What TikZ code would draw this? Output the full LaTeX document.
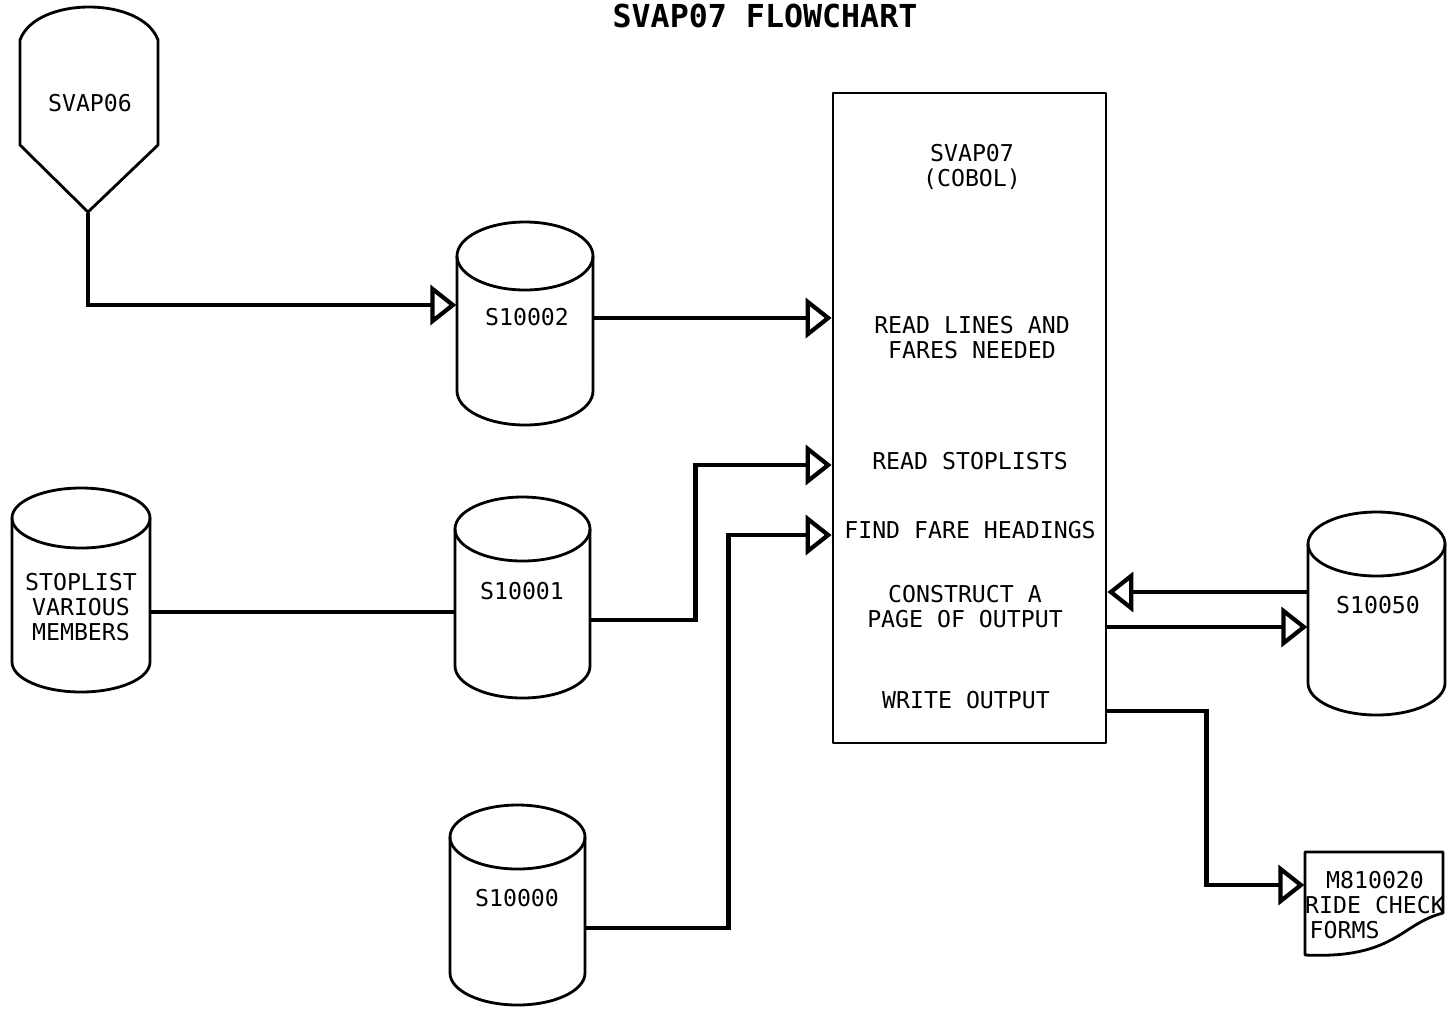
\documentclass[tikz,border=0pt]{standalone}
\usepackage{fontspec}
\setmonofont{DejaVu Sans Mono}
\usetikzlibrary{arrows.meta}
\tikzset{
  outline/.style={line width=0.8pt, line join=round},
  conn/.style={line width=1.4pt},
  flow/.style={conn, -{Triangle[open, length=0.26cm, width=0.40cm, line width=1.2pt]}},
  lbl/.style={font=\fontsize{6.6}{7.1}\selectfont\ttfamily, align=center, inner sep=0},
  area/.style={inner sep=0, draw=none}
}
% name, left, right, top, bottom, ellipse y radius
\newcommand\dbcyl[6]{%
  \pgfmathsetmacro\cylcx{(#2+#3)/2}%
  \pgfmathsetmacro\cylrx{(#3-#2)/2}%
  \draw[outline] (\cylcx,{#4-#6}) ellipse [x radius=\cylrx cm, y radius=#6 cm];
  \draw[outline] (#2,{#4-#6}) -- (#2,{#5+#6})
     arc[start angle=180, end angle=360, x radius=\cylrx cm, y radius=#6 cm] -- (#3,{#4-#6});
  \node[area, minimum width={(#3-#2)*1cm}, minimum height={(#4-#5)*1cm}] (#1) at (\cylcx,{(#4+#5)/2}) {};
}
\begin{document}
\begin{tikzpicture}
\useasboundingbox (0,0) rectangle (14.5,10.09);

% title
\node[font=\fontsize{9}{10}\selectfont\ttfamily\bfseries, inner sep=0] (title) at (7.65,9.93) {SVAP07 FLOWCHART};

% SVAP06 (off-page / terminal shape)
\draw[outline] (0.20,9.69) .. controls (0.36,10.13) and (1.42,10.13) .. (1.58,9.69)
   -- (1.58,8.64) -- (0.88,7.97) -- (0.20,8.64) -- cycle;
\node[area, minimum width=1.38cm, minimum height=2.05cm] (svap06) at (0.88,8.995) {};
\node[lbl] (svap06t) at (0.90,9.06) {SVAP06};

% data sets
\dbcyl{s10002}{4.57}{5.93}{7.87}{5.84}{0.34}
\node[lbl] (s10002t) at (5.27,6.92) {S10002};

\dbcyl{stop}{0.12}{1.50}{5.21}{3.17}{0.30}
\node[lbl] (stopt) at (0.81,4.02) {STOPLIST\\VARIOUS\\MEMBERS};

\dbcyl{s10001}{4.55}{5.90}{5.12}{3.11}{0.32}
\node[lbl] (s10001t) at (5.22,4.18) {S10001};

\dbcyl{s10000}{4.50}{5.85}{2.04}{0.04}{0.32}
\node[lbl] (s10000t) at (5.17,1.11) {S10000};

\dbcyl{s10050}{13.08}{14.45}{4.97}{2.94}{0.32}
\node[lbl] (s10050t) at (13.78,4.04) {S10050};

% main program box
\node[draw, outline, minimum width=2.73cm, minimum height=6.50cm, inner sep=0] (main) at (9.695,5.91) {};
\node[lbl] (m1) at (9.72,8.425) {SVAP07\\(COBOL)};
\node[lbl] (m2) at (9.72,6.715) {READ LINES AND\\FARES NEEDED};
\node[lbl] (m3) at (9.70,5.48) {READ STOPLISTS};
\node[lbl] (m4) at (9.70,4.79) {FIND FARE HEADINGS};
\node[lbl] (m5) at (9.65,4.02) {CONSTRUCT A\\PAGE OF OUTPUT};
\node[lbl] (m6) at (9.66,3.09) {WRITE OUTPUT};

% document
\draw[outline] (13.05,0.54) -- (13.05,1.57) -- (14.43,1.57) -- (14.43,0.96)
   .. controls (14.00,0.85) and (13.95,0.50) .. (13.05,0.54) -- cycle;
\node[area, minimum width=1.38cm, minimum height=1.03cm] (doc) at (13.74,1.055) {};
\node[lbl] (doct1) at (13.75,1.29) {M810020};
\node[lbl] (doct2) at (13.75,1.04) {RIDE CHECK};
\node[lbl, anchor=west] (doct3) at (13.09,0.79) {FORMS};

% connectors
\draw[flow] (svap06.south) |- (s10002.west |- 0,7.04);
\draw[flow] (s10002.east |- 0,6.91) -- (main.west |- 0,6.91);
\draw[conn] (stop.east |- 0,3.97) -- (s10001.west |- 0,3.97);
\draw[flow] (s10001.east |- 0,3.89) -- ++(1.05,0) |- (main.west |- 0,5.44);
\draw[flow] (s10000.east |- 0,0.81) -- ++(1.43,0) |- (main.west |- 0,4.74);
\draw[flow] (s10050.west |- 0,4.17) -- (main.east |- 0,4.17);
\draw[flow] (main.east |- 0,3.82) -- (s10050.west |- 0,3.82);
\draw[flow] (main.east |- 0,2.98) -- ++(0.99,0) |- (doc.west |- 0,1.24);
\end{tikzpicture}
\end{document}
